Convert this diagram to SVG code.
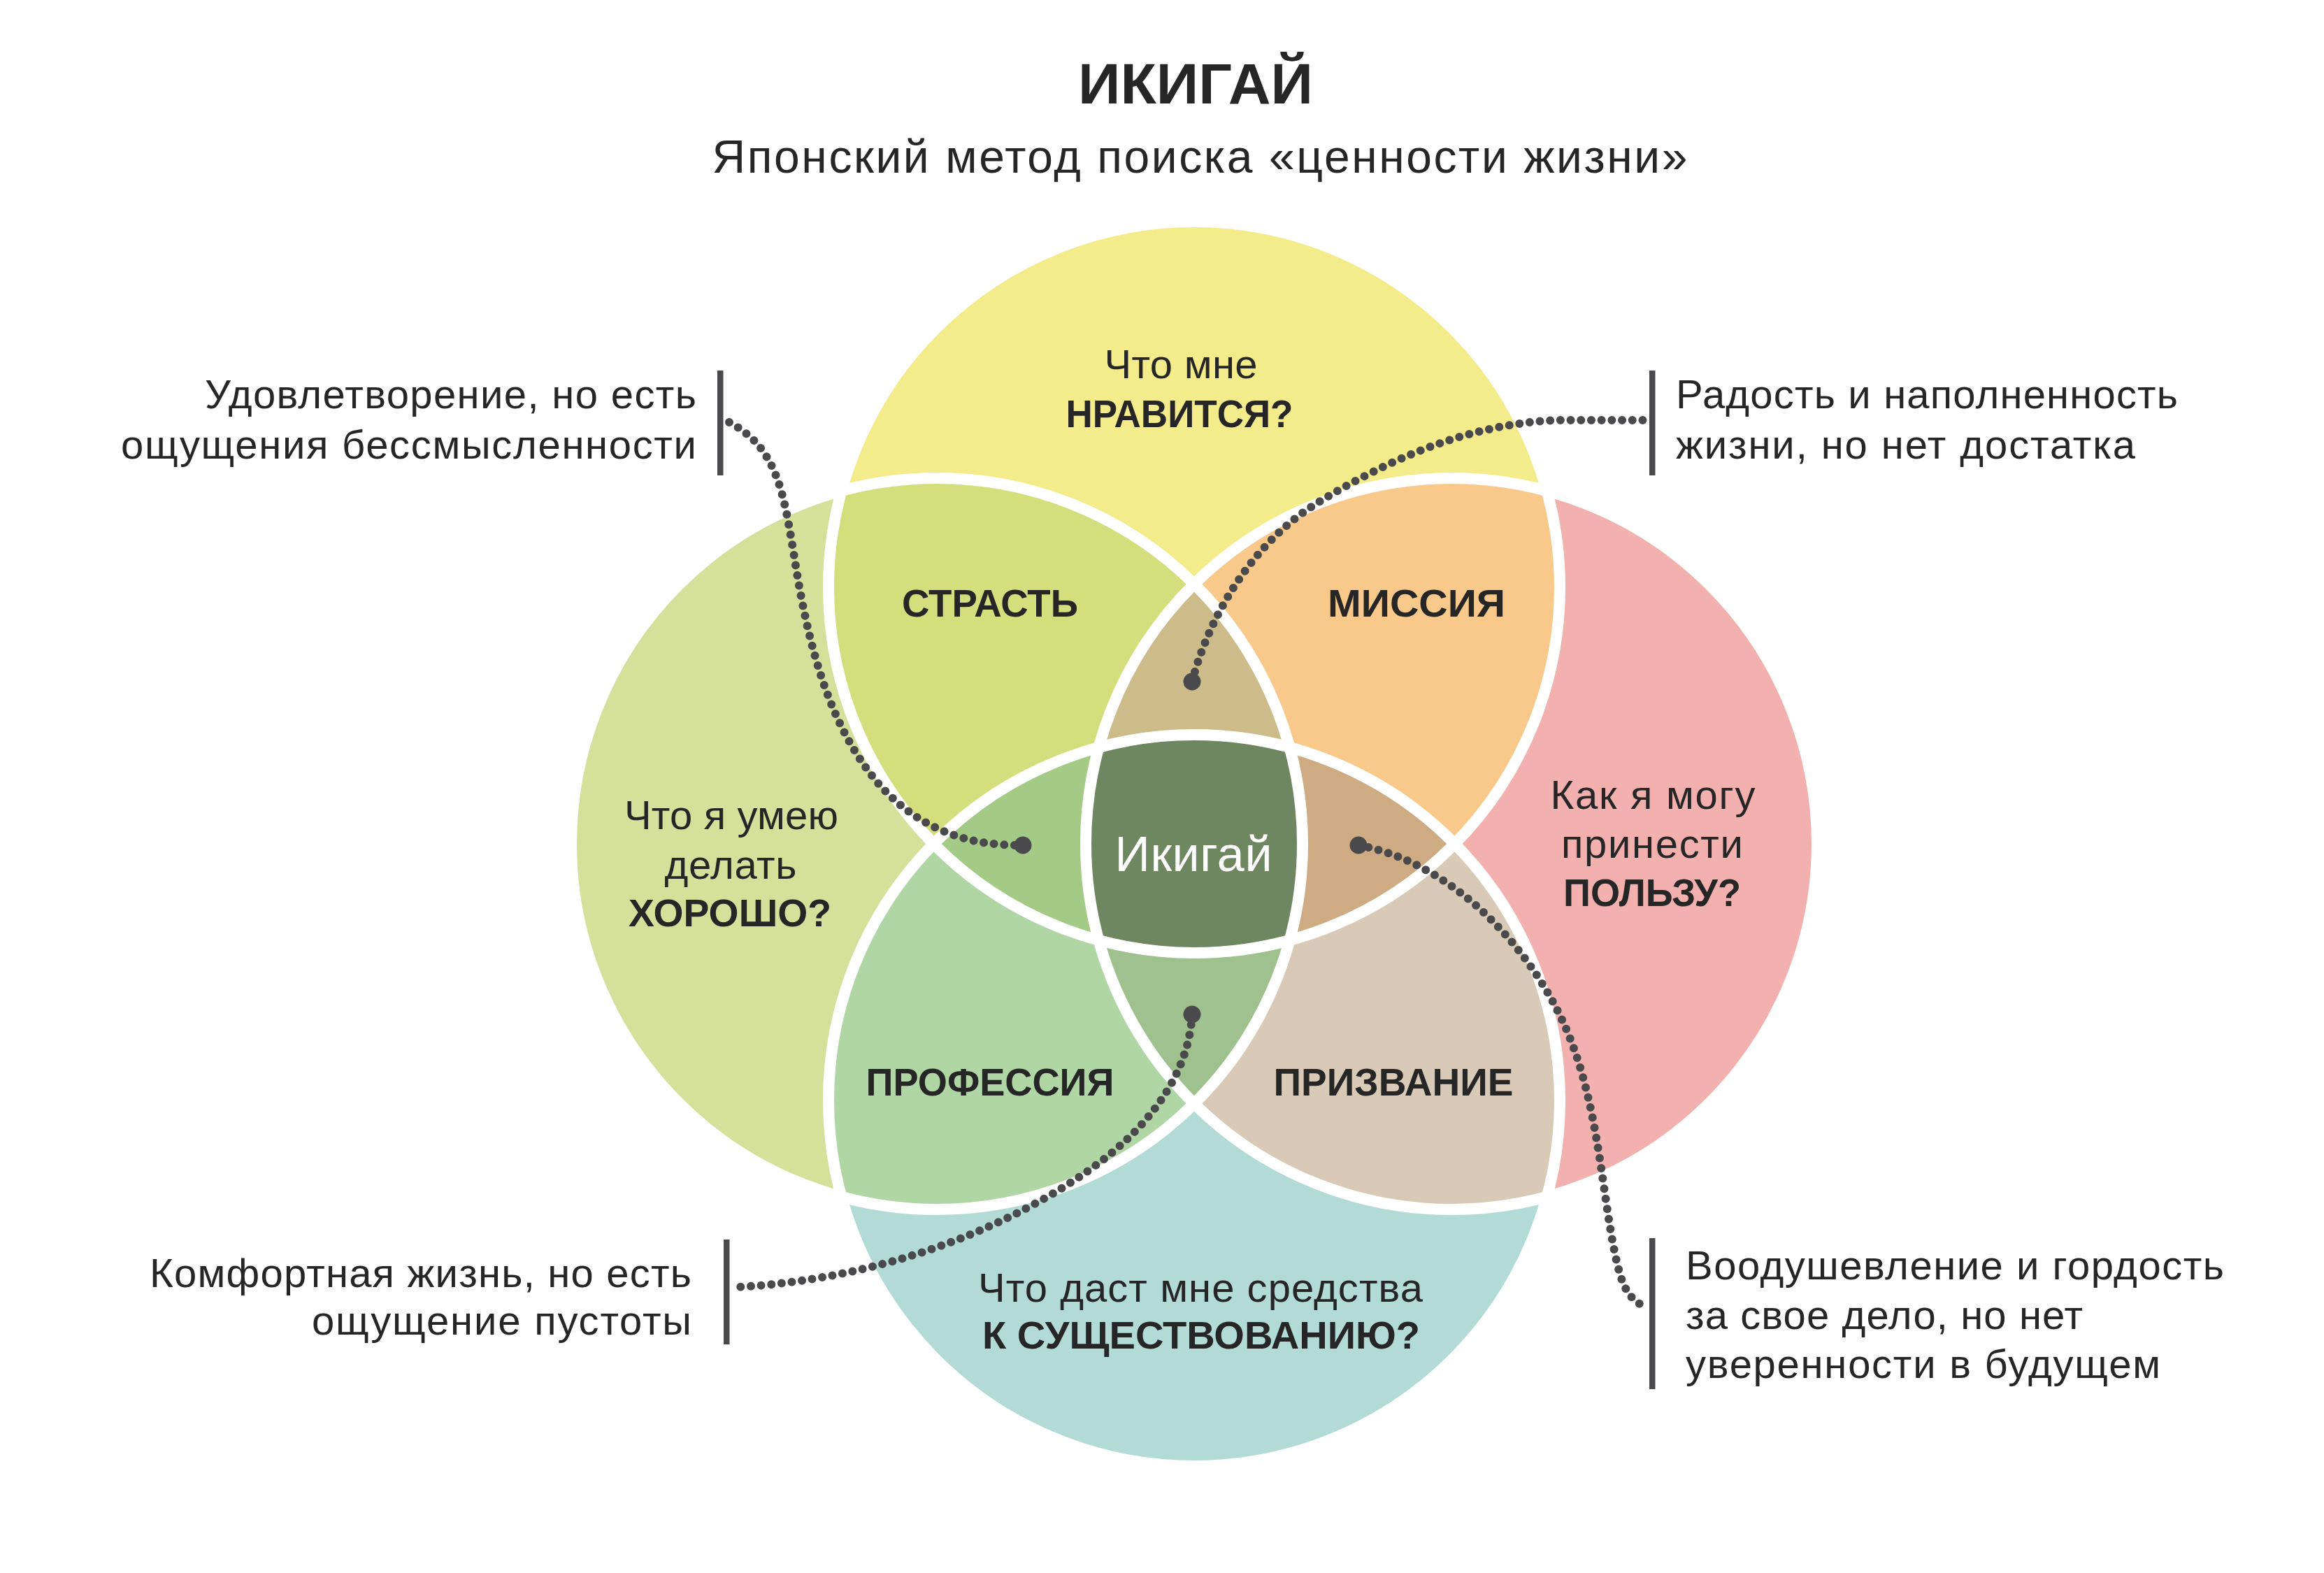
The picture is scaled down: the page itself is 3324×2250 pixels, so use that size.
<svg xmlns="http://www.w3.org/2000/svg" width="3324" height="2250" viewBox="0 0 3324 2250">
<style>
text{font-family:"Liberation Sans",Arial,sans-serif;fill:#262626}
.reg{font-size:58px;font-weight:400}
.bold{font-size:56px;font-weight:700}
.mid{text-anchor:middle}
.end{text-anchor:end}
.outline{fill:none;stroke:#ffffff;stroke-width:16}
.dots{fill:none;stroke:#4a4a4c;stroke-width:12;stroke-linecap:round;stroke-dasharray:0 14.7}
.bar{fill:#4a4a4c}
.enddot{fill:#4a4a4c}
</style>
<defs>
<clipPath id="cT"><circle cx="1708" cy="840" r="523"/></clipPath>
<clipPath id="cL"><circle cx="1340" cy="1207" r="523"/></clipPath>
<clipPath id="cR"><circle cx="2076" cy="1207" r="523"/></clipPath>
<clipPath id="cB"><circle cx="1708" cy="1574" r="523"/></clipPath>
</defs>
<rect width="3324" height="2250" fill="#ffffff"/>

<g id="title">
<text x="1710" y="148" class="mid" style="font-size:82px;font-weight:700" textLength="336" lengthAdjust="spacingAndGlyphs">ИКИГАЙ</text>
<text x="1716" y="247" class="mid" style="font-size:66px;font-weight:400" textLength="1395" lengthAdjust="spacing">Японский метод поиска «ценности жизни»</text>
</g>

<g id="regions">
<circle cx="1708" cy="840" r="523" fill="#F4EB8B"/>
<circle cx="1340" cy="1207" r="523" fill="#D5E09B"/>
<circle cx="2076" cy="1207" r="523" fill="#F2B1AE"/>
<circle cx="1708" cy="1574" r="523" fill="#B3DBD5"/>
<g clip-path="url(#cT)"><circle cx="1340" cy="1207" r="523" fill="#D3DE7C"/></g>
<g clip-path="url(#cT)"><circle cx="2076" cy="1207" r="523" fill="#F8C98A"/></g>
<g clip-path="url(#cB)"><circle cx="1340" cy="1207" r="523" fill="#B0D6A6"/></g>
<g clip-path="url(#cB)"><circle cx="2076" cy="1207" r="523" fill="#D8CAB7"/></g>
<g clip-path="url(#cT)"><g clip-path="url(#cL)"><circle cx="2076" cy="1207" r="523" fill="#CDBB8A"/></g></g>
<g clip-path="url(#cT)"><g clip-path="url(#cL)"><circle cx="1708" cy="1574" r="523" fill="#A3CB86"/></g></g>
<g clip-path="url(#cT)"><g clip-path="url(#cR)"><circle cx="1708" cy="1574" r="523" fill="#CFAB83"/></g></g>
<g clip-path="url(#cB)"><g clip-path="url(#cL)"><circle cx="2076" cy="1207" r="523" fill="#9EC18D"/></g></g>
<g clip-path="url(#cT)"><g clip-path="url(#cL)"><g clip-path="url(#cR)"><circle cx="1708" cy="1574" r="523" fill="#6E8760"/></g></g></g>
</g>

<g id="outlines">
<circle class="outline" cx="1708" cy="840" r="523"/>
<circle class="outline" cx="1340" cy="1207" r="523"/>
<circle class="outline" cx="2076" cy="1207" r="523"/>
<circle class="outline" cx="1708" cy="1574" r="523"/>
</g>

<g id="node-likes">
<text x="1689" y="541" class="reg mid" textLength="219" lengthAdjust="spacing">Что мне</text>
<text x="1687" y="611" class="bold mid" textLength="325" lengthAdjust="spacingAndGlyphs">НРАВИТСЯ?</text>
</g>
<g id="node-good-at">
<text x="1046" y="1186" class="reg mid" textLength="306" lengthAdjust="spacing">Что я умею</text>
<text x="1045" y="1257" class="reg mid" textLength="189" lengthAdjust="spacing">делать</text>
<text x="1044" y="1325" class="bold mid" textLength="290" lengthAdjust="spacingAndGlyphs">ХОРОШО?</text>
</g>
<g id="node-benefit">
<text x="2364" y="1157" class="reg mid" textLength="293" lengthAdjust="spacing">Как я могу</text>
<text x="2363" y="1227" class="reg mid" textLength="260" lengthAdjust="spacing">принести</text>
<text x="2363" y="1296" class="bold mid" textLength="254" lengthAdjust="spacingAndGlyphs">ПОЛЬЗУ?</text>
</g>
<g id="node-living">
<text x="1717" y="1862" class="reg mid" textLength="636" lengthAdjust="spacing">Что даст мне средства</text>
<text x="1718" y="1929" class="bold mid" textLength="626" lengthAdjust="spacingAndGlyphs">К СУЩЕСТВОВАНИЮ?</text>
</g>
<g id="node-passion"><text x="1416" y="882" class="bold mid" textLength="252" lengthAdjust="spacingAndGlyphs">СТРАСТЬ</text></g>
<g id="node-mission"><text x="2026" y="882" class="bold mid" textLength="254" lengthAdjust="spacingAndGlyphs">МИССИЯ</text></g>
<g id="node-profession"><text x="1416" y="1567" class="bold mid" textLength="355" lengthAdjust="spacingAndGlyphs">ПРОФЕССИЯ</text></g>
<g id="node-vocation"><text x="1993" y="1567" class="bold mid" textLength="343" lengthAdjust="spacingAndGlyphs">ПРИЗВАНИЕ</text></g>
<g id="node-ikigai"><text x="1707" y="1246" class="mid" style="font-size:70px;fill:#ffffff" textLength="225" lengthAdjust="spacing">Икигай</text></g>

<g id="note-top-left">
<rect class="bar" x="1026" y="530" width="8.5" height="150"/>
<text x="996" y="584" class="reg end" textLength="703" lengthAdjust="spacing">Удовлетворение, но есть</text>
<text x="996" y="656" class="reg end" textLength="823" lengthAdjust="spacing">ощущения бессмысленности</text>
</g>
<g id="note-top-right">
<rect class="bar" x="2359" y="530" width="8.5" height="150"/>
<text x="2397" y="584" class="reg" textLength="718" lengthAdjust="spacing">Радость и наполненность</text>
<text x="2397" y="656" class="reg" textLength="657" lengthAdjust="spacing">жизни, но нет достатка</text>
</g>
<g id="note-bottom-left">
<rect class="bar" x="1035" y="1773" width="8.5" height="150"/>
<text x="989" y="1841" class="reg end" textLength="775" lengthAdjust="spacing">Комфортная жизнь, но есть</text>
<text x="989" y="1909" class="reg end" textLength="543" lengthAdjust="spacing">ощущение пустоты</text>
</g>
<g id="note-bottom-right">
<rect class="bar" x="2359" y="1771" width="8.5" height="216"/>
<text x="2411" y="1830" class="reg" textLength="770" lengthAdjust="spacing">Воодушевление и гордость</text>
<text x="2411" y="1901" class="reg" textLength="568" lengthAdjust="spacing">за свое дело, но нет</text>
<text x="2411" y="1971" class="reg" textLength="679" lengthAdjust="spacing">уверенности в будущем</text>
</g>

<g id="connectors">
<path class="dots" d="M1043,604 C1110,640 1120,700 1135,790 C1155,920 1185,1040 1260,1125 C1320,1190 1390,1210 1463,1209"/>
<path class="dots" d="M1705,975 C1730,880 1790,780 1880,722 C1980,660 2100,605 2230,601 L2350,601"/>
<path class="dots" d="M1705,1451 C1700,1540 1640,1620 1540,1686 C1420,1765 1250,1830 1056,1841"/>
<path class="dots" d="M1943,1209 C2060,1230 2170,1330 2230,1450 C2290,1570 2290,1720 2315,1815 C2322,1845 2335,1860 2347,1866"/>
<circle class="enddot" cx="1463" cy="1209" r="12.5"/>
<circle class="enddot" cx="1705" cy="975" r="12.5"/>
<circle class="enddot" cx="1705" cy="1451" r="12.5"/>
<circle class="enddot" cx="1943" cy="1209" r="12.5"/>
</g>
</svg>
